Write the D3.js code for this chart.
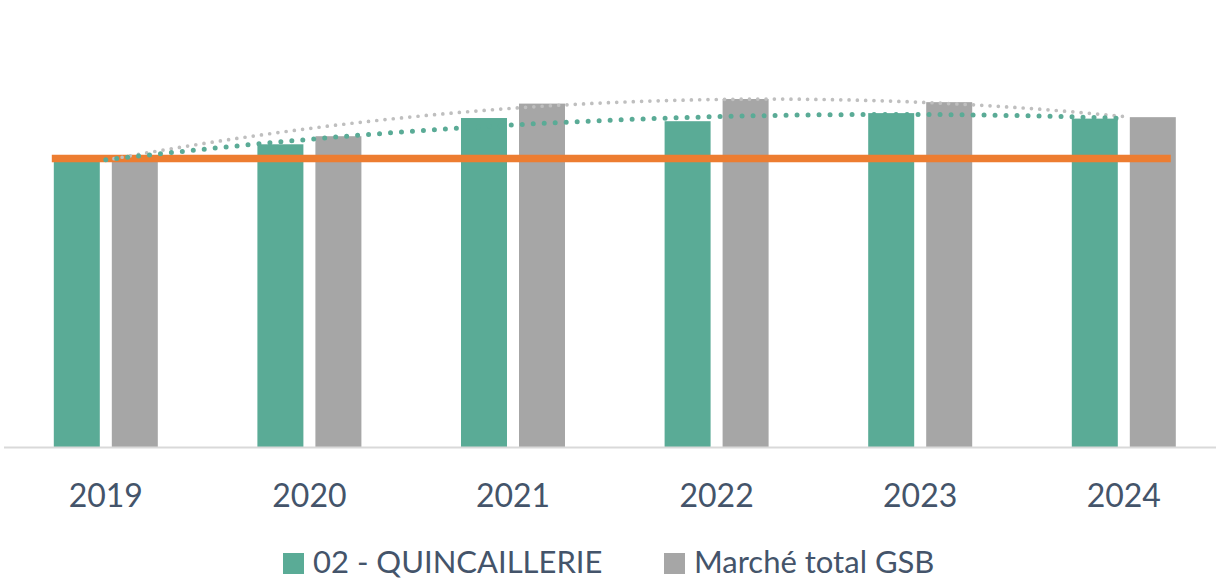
<!DOCTYPE html>
<html>
<head>
<meta charset="utf-8">
<script src="https://cdn.jsdelivr.net/npm/d3@7"></script>
<style>
  body { margin: 0; background: #fff; }
  svg { display: block; font-family: Lato, "Open Sans", sans-serif; }
</style>
</head>
<body>
<svg id="chart"></svg>
<script>
const width = 1216;
const height = 579;

// DATA (index, 2019 = 100)
const years = ['2019', '2020', '2021', '2022', '2023', '2024'];
const seriesNames = ['02 - QUINCAILLERIE', 'Marché total GSB'];
const quincaillerie = [100, 104.9, 114.0, 112.9, 115.7, 113.8];
const marcheTotal = [100.5, 107.7, 119.0, 120.6, 119.5, 114.3];
const reference = 100;

const colors = ['#5aab96', '#a6a6a6'];
const trendColors = ['#5aab96', '#bfbfbf'];
const textColor = '#44546a';

const values = [quincaillerie, marcheTotal];

// SCALES
const xScale = d3.scaleBand()
                 .domain(years)
                 .range([4, 4 + 6 * 203.6]);
const xSub = d3.scaleBand()
               .domain(seriesNames)
               .range([49.8, 153.8])
               .paddingInner(0.207);
const yScale = d3.scaleLinear()
                 .domain([0, 140])
                 .range([447, 43]);

const svg = d3.select('#chart')
              .attr('width', width)
              .attr('height', height);

// BARS
const groups = svg.selectAll('g.year')
    .data(years)
    .enter()
    .append('g')
        .attr('class', 'year')
        .attr('transform', d => `translate(${xScale(d)}, 0)`);

groups.selectAll('rect')
    .data((d, i) => seriesNames.map((s, j) => ({ s, j, v: values[j][i] })))
    .enter()
    .append('rect')
        .attr('x', d => xSub(d.s))
        .attr('y', d => yScale(d.v))
        .attr('width', xSub.bandwidth())
        .attr('height', d => yScale(0) - yScale(d.v))
        .attr('fill', d => colors[d.j]);

// AXIS LINE
svg.append('line')
    .attr('x1', 4)
    .attr('x2', width)
    .attr('y1', yScale(0) + 0.5)
    .attr('y2', yScale(0) + 0.5)
    .attr('stroke', '#d9d9d9')
    .attr('stroke-width', 2);

// TICK LABELS
svg.selectAll('text.tick')
    .data(years)
    .enter()
    .append('text')
        .attr('class', 'tick')
        .attr('x', d => xScale(d) + xScale.bandwidth() / 2)
        .attr('y', 507)
        .attr('text-anchor', 'middle')
        .attr('fill', textColor)
        .style('font-size', '32px')
        .text(d => d);

// REFERENCE LINE
const firstX = xScale(years[0]) + xSub(seriesNames[0]) - 2;
const lastX = xScale(years[years.length - 1]) + xSub(seriesNames[1]) + xSub.bandwidth() - 5;
svg.append('line')
    .attr('x1', firstX)
    .attr('x2', lastX)
    .attr('y1', yScale(reference))
    .attr('y2', yScale(reference))
    .attr('stroke', '#ed7d31')
    .attr('stroke-width', 7.5);

// TRENDLINES (quadratic least squares, like Excel)
function quadFit(ys) {
    const n = ys.length;
    const xm = (n - 1) / 2;
    const t = ys.map((_, i) => i - xm);
    const s2 = d3.sum(t, v => v * v);
    const s4 = d3.sum(t, v => v ** 4);
    const sy = d3.sum(ys);
    const sty = d3.sum(ys, (y, i) => t[i] * y);
    const st2y = d3.sum(ys, (y, i) => t[i] * t[i] * y);
    const b = sty / s2;
    const c = (st2y - s2 * sy / n) / (s4 - s2 * s2 / n);
    const a = (sy - c * s2) / n;
    return x => a + b * (x - xm) + c * (x - xm) ** 2;
}

const centerX = i => xScale(years[0]) + xScale.bandwidth() / 2 + i * xScale.step();
const trendDash = [{ w: 5, gap: 11 }, { w: 3.7, gap: 8.3 }];

[1, 0].forEach(j => {
    const f = quadFit(values[j]);
    const pts = d3.range(0, years.length - 1 + 0.001, 0.05).map(x => [centerX(x), yScale(f(x))]);
    svg.append('path')
        .attr('d', d3.line()(pts))
        .attr('fill', 'none')
        .attr('stroke', trendColors[j])
        .attr('stroke-width', trendDash[j].w)
        .attr('stroke-linecap', 'round')
        .attr('stroke-dasharray', `0 ${trendDash[j].gap}`);
});

// LEGEND
const legendX = [283, 664];
const legend = svg.selectAll('g.legend')
    .data(seriesNames)
    .enter()
    .append('g')
        .attr('class', 'legend')
        .attr('transform', (d, i) => `translate(${legendX[i]}, 553)`);

legend.append('rect')
    .attr('width', 21)
    .attr('height', 21)
    .attr('fill', (d, i) => colors[i]);

legend.append('text')
    .attr('x', 30)
    .attr('y', 20)
    .attr('fill', textColor)
    .style('font-size', '31px')
    .text(d => d);
</script>
</body>
</html>
